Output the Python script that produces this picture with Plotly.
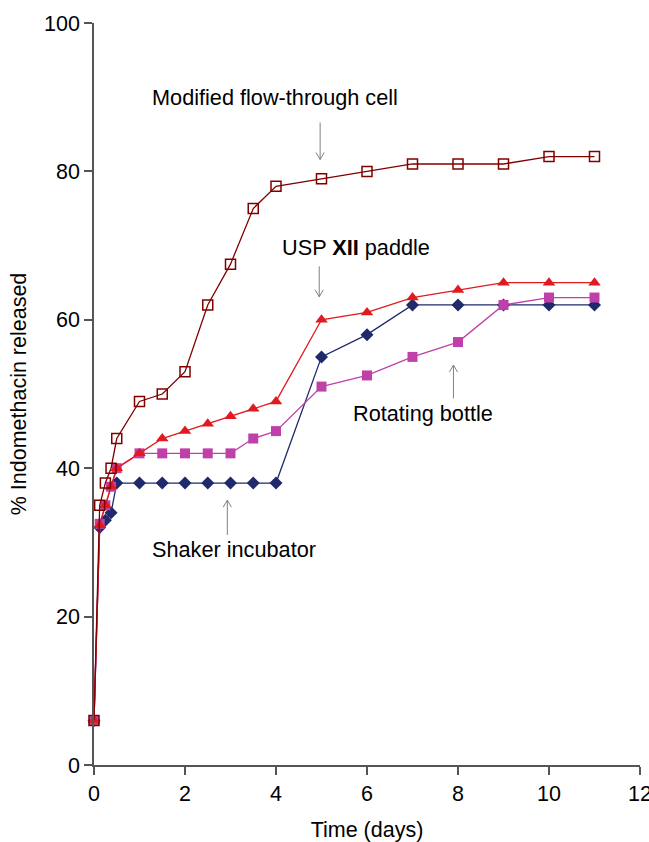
import plotly.graph_objects as go

# Sampling times (days)
time_days = [0, 0.125, 0.25, 0.375, 0.5, 1, 1.5, 2, 2.5, 3, 3.5, 4, 5, 6, 7, 8, 9, 10, 11]

# Cumulative % indomethacin released for each dissolution method
shaker_incubator = [6, 32, 33, 34, 38, 38, 38, 38, 38, 38, 38, 38, 55, 58, 62, 62, 62, 62, 62]
rotating_bottle = [6, 32.5, 35, 37.5, 40, 42, 42, 42, 42, 42, 44, 45, 51, 52.5, 55, 57, 62, 63, 63]
usp_paddle = [6, 32.3, 35, 37.5, 40, 42, 44, 45, 46, 47, 48, 49, 60, 61, 63, 64, 65, 65, 65]
flow_through = [6, 35, 38, 40, 44, 49, 50, 53, 62, 67.5, 75, 78, 79, 80, 81, 81, 81, 82, 82]

x_ticks = [0, 2, 4, 6, 8, 10, 12]
y_ticks = [0, 20, 40, 60, 80, 100]

FONT = "Liberation Sans, Arial, sans-serif"
AXIS_COLOR = "#555555"

fig = go.Figure()

series = [
    ("Shaker incubator", shaker_incubator, "#1F2A6C",
     dict(symbol="diamond", size=10, color="#1F2A6C")),
    ("Rotating bottle", rotating_bottle, "#C040AA",
     dict(symbol="square", size=10, color="#C040AA")),
    ("USP XII paddle", usp_paddle, "#E01A1F",
     dict(symbol="triangle-up", size=11, color="#E01A1F")),
    ("Modified flow-through cell", flow_through, "#800000",
     dict(symbol="square-open", size=10, color="#800000", line=dict(width=1.5))),
]

for name, values, color, marker in series:
    fig.add_trace(go.Scatter(
        x=time_days, y=values, name=name, mode="lines+markers",
        line=dict(color=color, width=1.3), marker=marker,
        cliponaxis=False, showlegend=False,
    ))

# Text labels with pointer arrows (x, label_y, arrow x, arrow tail y, arrow tip y)
labels = [
    ("Modified flow-through cell", 3.97, 89.9, 4.97, 86.6, 81.6),
    ("USP <b>XII</b> paddle", 5.76, 69.7, 4.95, 67.2, 63.1),
    ("Rotating bottle", 7.24, 47.4, 7.9, 49.4, 53.9),
    ("Shaker incubator", 3.07, 29.0, 2.93, 31.0, 35.7),
]

head_dx = 0.09
head_dy = 0.95
for text, tx, ty, ax, y_tail, y_tip in labels:
    fig.add_annotation(x=tx, y=ty, xref="x", yref="y", text=text, showarrow=False,
                       font=dict(family=FONT, size=21.7, color="#000000"))
    sign = 1 if y_tip < y_tail else -1
    path = (f"M {ax},{y_tail} L {ax},{y_tip} "
            f"M {ax - head_dx},{y_tip + sign * head_dy} L {ax},{y_tip} "
            f"L {ax + head_dx},{y_tip + sign * head_dy}")
    fig.add_shape(type="path", path=path, xref="x", yref="y",
                  line=dict(color="#808080", width=1))

fig.update_layout(
    width=649, height=842,
    margin=dict(l=94, r=9, t=23, b=77, autoexpand=False),
    paper_bgcolor="white", plot_bgcolor="white",
    font=dict(family=FONT, size=21, color="#000000"),
    xaxis=dict(
        range=[0, 12], tickvals=x_ticks, showgrid=False, zeroline=False,
        showline=True, linecolor=AXIS_COLOR, linewidth=1.5,
        ticks="outside", ticklen=8, tickcolor=AXIS_COLOR, tickwidth=1.5,
        ticklabeloverflow="allow", automargin=False,
        title=dict(text="Time (days)", font=dict(size=21.5), standoff=19),
        tickfont=dict(size=21.5),
    ),
    yaxis=dict(
        range=[0, 100], tickvals=y_ticks, showgrid=False, zeroline=False,
        showline=True, linecolor=AXIS_COLOR, linewidth=1.5,
        ticks="outside", ticklen=8, tickcolor=AXIS_COLOR, tickwidth=1.5,
        automargin=False,
        title=dict(text="% Indomethacin released", font=dict(size=21.5), standoff=12),
        tickfont=dict(size=21.5),
    ),
)

fig.write_html("out.html")
